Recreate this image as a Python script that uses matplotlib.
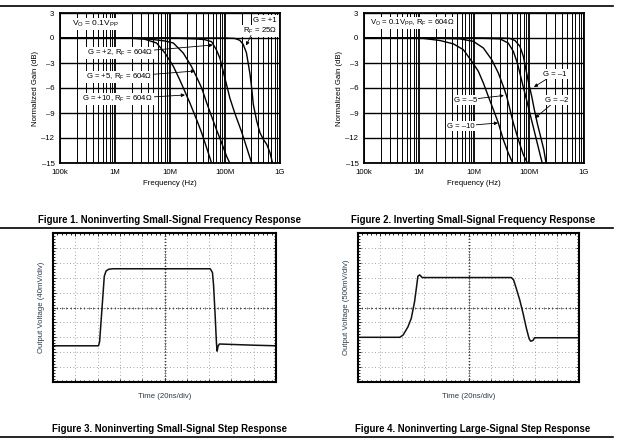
import numpy as np
import matplotlib
matplotlib.use('Agg')
import matplotlib.pyplot as plt
from matplotlib.lines import Line2D
from matplotlib.ticker import LogLocator, NullFormatter, MultipleLocator

plt.rcParams['font.family'] = ['Liberation Sans', 'DejaVu Sans']
plt.rcParams['mathtext.fontset'] = 'custom'
plt.rcParams['mathtext.rm'] = 'Liberation Sans'
plt.rcParams['mathtext.it'] = 'Liberation Sans'

# Figure 1: noninverting small-signal frequency response (Hz, dB)
f_p1 = [1e5, 1e8, 151e6, 186e6, 214e6, 245e6, 263e6, 285e6, 305e6, 327e6, 377e6, 432e6, 498e6, 573e6, 658e6, 724e6]
g_p1 = [0, 0, -0.05, -0.28, -0.76, -1.76, -2.96, -4.36, -5.96, -7.96, -9.96, -11.36, -12.16, -12.76, -13.76, -14.9]
f_p2 = [1e5, 10e6, 28.5e6, 43e6, 57e6, 70e6, 81e6, 93e6, 107e6, 123e6, 151e6, 200e6, 245e6, 305e6]
g_p2 = [0, 0, -0.1, -0.2, -0.44, -1.44, -2.44, -4.04, -5.64, -7.24, -9.04, -11.24, -13.04, -15.0]
f_p5 = [1e5, 2e6, 4.4e6, 8e6, 11.5e6, 17.4e6, 24.5e6, 30e6, 37.7e6, 46e6, 57e6, 70e6, 87e6, 107e6, 122e6]
g_p5 = [0, -0.03, -0.15, -0.35, -0.6, -1.8, -3.4, -4.6, -6.0, -7.7, -9.4, -11.0, -12.6, -14.2, -15.0]
f_p10 = [1e5, 2e6, 3.3e6, 5.7e6, 8.1e6, 11.5e6, 15e6, 18.6e6, 23e6, 30.5e6, 37.7e6, 46.5e6, 57e6]
g_p10 = [0, -0.03, -0.1, -0.6, -1.8, -3.4, -5.0, -6.4, -7.8, -9.8, -11.4, -13.2, -15.0]

# Figure 2: inverting small-signal frequency response
f_m1 = [1e5, 30e6, 45e6, 55.6e6, 68.5e6, 78.9e6, 88.1e6, 98.6e6, 112e6, 125e6, 141e6, 162e6, 186e6, 204e6]
g_m1 = [0, 0, -0.05, -0.3, -1.0, -2.2, -3.8, -5.4, -7.0, -8.6, -10.2, -11.8, -13.4, -15.0]
f_m2 = [1e5, 10e6, 29.5e6, 41.8e6, 51.9e6, 61.4e6, 70.5e6, 81e6, 93.3e6, 107e6, 123e6, 141e6, 162e6, 174e6]
g_m2 = [0, 0, -0.1, -0.6, -1.6, -3.0, -4.6, -6.2, -7.8, -9.4, -11.0, -12.6, -14.2, -15.0]
f_m5 = [1e5, 2e6, 5.5e6, 9.7e6, 14.8e6, 21e6, 27.7e6, 34.1e6, 39.3e6, 45.2e6, 51.9e6, 64e6, 78.9e6, 93.3e6]
g_m5 = [0, -0.02, -0.1, -0.4, -1.2, -2.6, -4.2, -5.8, -7.0, -8.6, -10.2, -12.2, -14.0, -15.0]
f_m10 = [1e5, 1.2e6, 2.4e6, 4.2e6, 6.4e6, 9.1e6, 12e6, 14.8e6, 18.2e6, 22.5e6, 27.7e6, 34.1e6, 42e6, 50.5e6]
g_m10 = [0, -0.05, -0.3, -0.7, -1.4, -2.8, -4.0, -5.4, -7.0, -8.6, -10.2, -12.2, -13.8, -15.0]

# Figure 3 / 4: scope traces in divisions (x: time div, y: voltage div)
t_small = [0, 2.04, 2.09, 2.2, 2.3, 2.38, 2.5, 2.7, 7.05, 7.15, 7.2, 7.27, 7.33, 7.36, 7.4, 7.46, 9.0, 10]
v_small = [2.43, 2.43, 2.7, 5.0, 7.1, 7.45, 7.57, 7.6, 7.6, 7.35, 6.5, 4.5, 2.6, 2.07, 2.4, 2.55, 2.47, 2.43]
t_large = [0, 1.89, 2.04, 2.26, 2.41, 2.56, 2.64, 2.71, 2.79, 2.91, 6.94, 7.04, 7.16, 7.32, 7.47, 7.62, 7.74, 7.81, 7.92, 7.99, 10]
v_large = [3.0, 3.0, 3.15, 3.7, 4.27, 5.39, 6.29, 7.1, 7.19, 7.01, 7.01, 6.85, 6.29, 5.5, 4.6, 3.6, 2.92, 2.74, 2.79, 2.97, 2.97]

x_ticks = [1e5, 1e6, 1e7, 1e8, 1e9]
x_labels = ['100k', '1M', '10M', '100M', '1G']
y_ticks = [3, 0, -3, -6, -9, -12, -15]
y_labels = ['3', '0', '\u20133', '\u20136', '\u20139', '\u201312', '\u201315']

W, H = 620, 442
fig = plt.figure(figsize=(6.2, 4.42), dpi=100)
fs = 5.6


def pos(l, t, r, b):
    return [l / W, 1 - b / H, (r - l) / W, (b - t) / H]


def freq_axes(rect):
    ax = fig.add_axes(rect)
    ax.set_xscale('log')
    ax.set_xlim(1e5, 1e9)
    ax.set_ylim(-15, 3)
    ax.set_xticks(x_ticks)
    ax.set_xticklabels(x_labels)
    ax.set_yticks(y_ticks)
    ax.set_yticklabels(y_labels)
    ax.xaxis.set_minor_locator(LogLocator(base=10, subs=range(2, 10)))
    ax.xaxis.set_minor_formatter(NullFormatter())
    ax.grid(which='major', axis='x', color='k', lw=1.3)
    ax.grid(which='minor', axis='x', color='k', lw=0.7)
    ax.grid(which='major', axis='y', color='k', lw=1.0)
    ax.tick_params(which='both', length=0, labelsize=fs, pad=4)
    for s in ax.spines.values():
        s.set_linewidth(1.3)
    ax.set_xlabel('Frequency (Hz)', fontsize=fs, labelpad=3)
    ax.set_ylabel('Normalized Gain (dB)', fontsize=fs, labelpad=2)
    return ax


box = dict(fc='white', ec='none', pad=0.8)
arr = dict(arrowstyle='-|>', lw=0.6, color='k', mutation_scale=5, shrinkA=0, shrinkB=0)

ax1 = freq_axes(pos(60, 13, 280, 163))
for f, g in [(f_p1, g_p1), (f_p2, g_p2), (f_p5, g_p5), (f_p10, g_p10)]:
    ax1.plot(f, g, color='k', lw=1.0)
ax1.text(1.65e5, 1.68, r'V$_\mathrm{O}$ = 0.1V$_\mathrm{PP}$', fontsize=6.0, va='center', bbox=box)
ax1.text(8.8e8, 2.16, 'G = +1', fontsize=fs, ha='right', va='center', bbox=box)
ax1.text(8.8e8, 0.84, r'R$_\mathrm{F}$ = 25Ω', fontsize=fs, ha='right', va='center', bbox=box)
ax1.annotate('', xy=(2.41e8, -0.9), xytext=(2.97e8, 0.3), arrowprops=arr)
ax1.annotate(r'G = +2, R$_\mathrm{F}$ = 604Ω', xy=(6.0e7, -0.84), xytext=(4.9e6, -1.8),
             fontsize=fs, ha='right', va='center', bbox=box, arrowprops=arr)
ax1.annotate(r'G = +5, R$_\mathrm{F}$ = 604Ω', xy=(2.85e7, -3.96), xytext=(4.7e6, -4.68),
             fontsize=fs, ha='right', va='center', bbox=box, arrowprops=arr)
ax1.annotate(r'G = +10, R$_\mathrm{F}$ = 604Ω', xy=(1.87e7, -6.84), xytext=(4.9e6, -7.32),
             fontsize=fs, ha='right', va='center', bbox=box, arrowprops=arr)

ax2 = freq_axes(pos(364, 13, 584, 163))
for f, g in [(f_m1, g_m1), (f_m2, g_m2), (f_m5, g_m5), (f_m10, g_m10)]:
    ax2.plot(f, g, color='k', lw=1.0)
ax2.text(1.29e5, 1.8, r'V$_\mathrm{O}$ = 0.1V$_\mathrm{PP}$, R$_\mathrm{F}$ = 604Ω', fontsize=fs, va='center', bbox=box)
ax2.annotate('G = \u20131', xy=(1.23e8, -5.88), xytext=(1.8e8, -4.32),
             fontsize=fs, ha='left', va='center', bbox=box, arrowprops=arr)
ax2.annotate('G = \u20132', xy=(1.29e8, -9.6), xytext=(1.95e8, -7.44),
             fontsize=fs, ha='left', va='center', bbox=box, arrowprops=arr)
ax2.annotate('G = \u20135', xy=(3.5e7, -6.9), xytext=(1.13e7, -7.44),
             fontsize=fs, ha='right', va='center', bbox=box, arrowprops=arr)
ax2.annotate('G = \u201310', xy=(2.73e7, -10.2), xytext=(1.04e7, -10.56),
             fontsize=fs, ha='right', va='center', bbox=box, arrowprops=arr)


def scope_axes(rect, ylabel):
    ax = fig.add_axes(rect)
    ax.set_xlim(0, 10)
    ax.set_ylim(0, 10)
    ax.xaxis.set_major_locator(MultipleLocator(1))
    ax.yaxis.set_major_locator(MultipleLocator(1))
    ax.xaxis.set_minor_locator(MultipleLocator(0.2))
    ax.yaxis.set_minor_locator(MultipleLocator(0.2))
    ax.tick_params(which='both', direction='in', top=True, right=True,
                   labelbottom=False, labelleft=False, width=0.6, color='k')
    ax.tick_params(which='major', length=2.5)
    ax.tick_params(which='minor', length=1.6)
    ax.grid(which='major', color='#888888', ls=(0, (1, 3)), lw=0.6)
    ax.axvline(5, color='#333333', ls=(0, (1, 2.5)), lw=0.7)
    ax.axhline(5, color='#333333', ls=(0, (1, 2.5)), lw=0.7)
    marks = np.arange(0, 10.01, 0.2)
    ax.plot(marks, np.full_like(marks, 5), ls='none', marker='|', ms=1.8, mew=0.5, color='#333333')
    ax.plot(np.full_like(marks, 5), marks, ls='none', marker='_', ms=1.8, mew=0.5, color='#333333')
    for s in ax.spines.values():
        s.set_linewidth(1.5)
    ax.set_xlabel('Time (20ns/div)', fontsize=fs, color='#2f3a4a', labelpad=8)
    ax.set_ylabel(ylabel, fontsize=fs, color='#2f3a4a', labelpad=6)
    return ax


ax3 = scope_axes(pos(53, 233, 276, 382), 'Output Voltage (40mV/div)')
ax3.plot(t_small, v_small, color='#111111', lw=1.1)
ax4 = scope_axes(pos(358, 233, 579, 382), 'Output Voltage (500mV/div)')
ax4.plot(t_large, v_large, color='#111111', lw=1.1)

# figure titles and page rules
tk = dict(fontsize=6.9, fontweight='bold', ha='center', va='center')
fig.text(170 / W, 1 - 220 / H, 'Figure 1. Noninverting Small-Signal Frequency Response', **tk)
fig.text(473 / W, 1 - 220 / H, 'Figure 2. Inverting Small-Signal Frequency Response', **tk)
fig.text(170 / W, 1 - 429 / H, 'Figure 3. Noninverting Small-Signal Step Response', **tk)
fig.text(473 / W, 1 - 429 / H, 'Figure 4. Noninverting Large-Signal Step Response', **tk)
for py in [6, 228, 437]:
    fig.add_artist(Line2D([0, 613 / W], [1 - py / H, 1 - py / H], color='k', lw=1.2))

fig.savefig('out.png', dpi=100)
